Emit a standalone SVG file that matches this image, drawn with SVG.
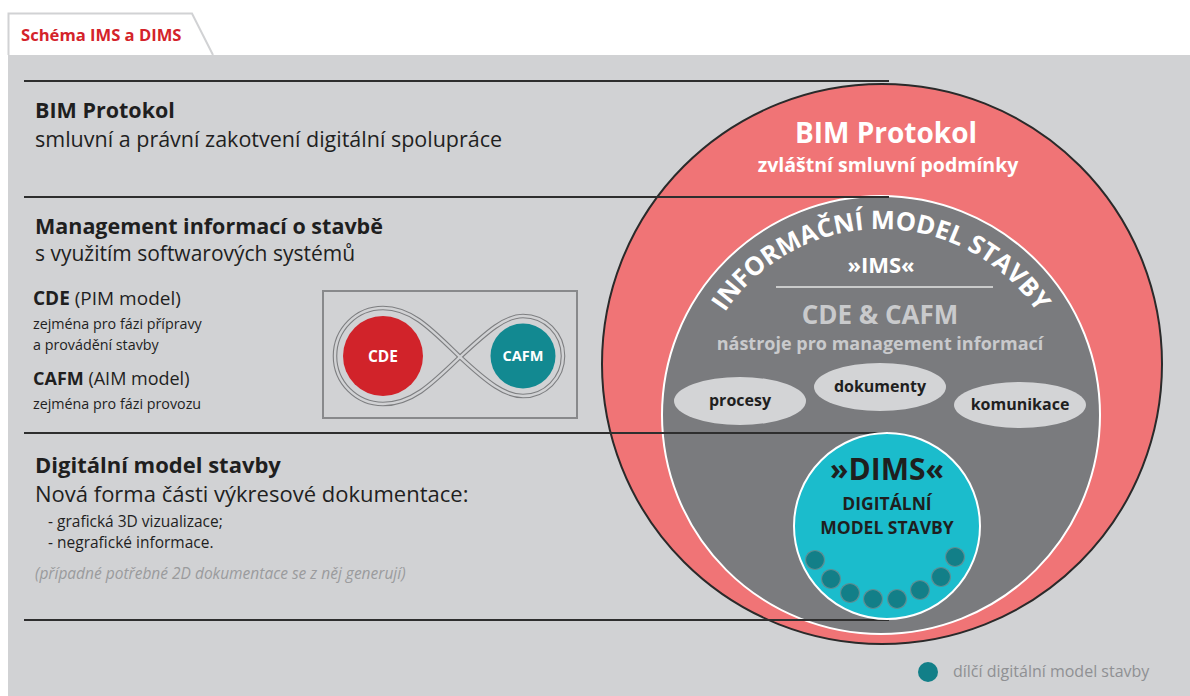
<svg xmlns="http://www.w3.org/2000/svg" width="1190" height="696" viewBox="0 0 1190 696">
<defs>
<style>
text{font-family:"Open Sans","Noto Sans","Liberation Sans",sans-serif}
.b{font-weight:700}
.dark{fill:#1f1f1f}
.rule{stroke:#2e2e2e;stroke-width:2}
.w{fill:#ffffff}
.lg{fill:#c9cacc}
.pill{fill:#d3d4d6}
.dot{fill:#127f88;stroke:#5f8e93;stroke-width:1.2}
</style>
<path id="arc" d="M 693,417 A 188,188 0 0 1 1069,417"/>
</defs>
<rect width="1190" height="696" fill="#ffffff"/>
<g id="background">
<rect x="8" y="55" width="1182" height="641" fill="#d1d2d4"/>
<path d="M8.5,55 L8.5,13.5 L192,13.5 L213,55" fill="#ffffff" stroke="#d1d2d4" stroke-width="2"/>
<text x="21" y="41" font-size="16.6" class="b" fill="#d4232a">Schéma IMS a DIMS</text>
</g>
<g id="rings">
<circle cx="882" cy="364" r="280" fill="#f07476" stroke="#2a2a2a" stroke-width="2"/>
<circle cx="881" cy="415" r="219" fill="#7a7b7e" stroke="#ffffff" stroke-width="2"/>
</g>
<g id="connectors">
<line class="rule" x1="24" y1="81" x2="889" y2="81"/>
<line class="rule" x1="24" y1="197" x2="889" y2="197"/>
<line class="rule" x1="24" y1="433" x2="889" y2="433"/>
<line class="rule" x1="24" y1="620" x2="889" y2="620"/>
</g>
<g id="bim-protokol-left">
<text x="35" y="118" font-size="21.5" class="b dark">BIM Protokol</text>
<text x="35" y="147" font-size="21.5" class="dark">smluvní a právní zakotvení digitální spolupráce</text>
</g>
<g id="management-left">
<text x="35" y="234" font-size="21.5" class="b dark">Management informací o stavbě</text>
<text x="35" y="261" font-size="21" class="dark">s využitím softwarových systémů</text>
<text x="33" y="305" font-size="19" class="dark"><tspan class="b">CDE</tspan> (PIM model)</text>
<text x="33" y="329" font-size="14.3" class="dark">zejména pro fázi přípravy</text>
<text x="33" y="350" font-size="14.3" class="dark">a provádění stavby</text>
<text x="33" y="385" font-size="18" class="dark"><tspan class="b">CAFM</tspan> (AIM model)</text>
<text x="33" y="409" font-size="14.3" class="dark">zejména pro fázi provozu</text>
</g>
<g id="cde-cafm-box">
<rect x="323" y="291" width="254" height="127" fill="none" stroke="#88898b" stroke-width="2"/>
<path d="M460,357 C432,330 412,308 383,308 A48,48 0 0 0 383,404 C412,404 432,384 460,357 C488,331 505,316 523,316 A40,40 0 0 1 523,396 C505,396 488,383 460,357 Z" fill="none" stroke="#7d7e80" stroke-width="4.6"/>
<path d="M460,357 C432,330 412,308 383,308 A48,48 0 0 0 383,404 C412,404 432,384 460,357 C488,331 505,316 523,316 A40,40 0 0 1 523,396 C505,396 488,383 460,357 Z" fill="none" stroke="#d1d2d4" stroke-width="2.4"/>
<circle cx="383" cy="356" r="40" fill="#d1232a"/>
<text x="383" y="362" font-size="15.5" class="b w" text-anchor="middle">CDE</text>
<circle cx="523" cy="356" r="32.5" fill="#128991"/>
<text x="523" y="361" font-size="14.5" class="b w" text-anchor="middle">CAFM</text>
</g>
<g id="dims-left">
<text x="35" y="473" font-size="22" class="b dark">Digitální model stavby</text>
<text x="35" y="502" font-size="22" class="dark">Nová forma části výkresové dokumentace:</text>
<text x="48" y="527" font-size="15.5" class="dark">- grafická 3D vizualizace;</text>
<text x="48" y="548" font-size="15.5" class="dark">- negrafické informace.</text>
<text x="35" y="579" font-size="15.5" font-style="italic" fill="#9a9b9d">(případné potřebné 2D dokumentace se z něj generují)</text>
</g>
<g id="bim-protokol-ring">
<text x="886" y="143" font-size="28" class="b w" text-anchor="middle">BIM Protokol</text>
<text x="888" y="172" font-size="19.5" class="b w" text-anchor="middle">zvláštní smluvní podmínky</text>
</g>
<g id="ims">
<text font-size="25.5" class="b w"><textPath href="#arc" startOffset="50%" text-anchor="middle">INFORMAČNÍ MODEL STAVBY</textPath></text>
<text x="881" y="273" font-size="22" class="b w" text-anchor="middle">»IMS«</text>
<line x1="776" y1="287" x2="993" y2="287" stroke="#e6e6e6" stroke-width="1.5"/>
<text x="880" y="324" font-size="26" class="b lg" text-anchor="middle">CDE &amp; CAFM</text>
<text x="880" y="350" font-size="18" class="b lg" text-anchor="middle">nástroje pro management informací</text>
</g>
<g id="procesy">
<ellipse cx="740" cy="401" rx="66" ry="24" class="pill"/>
<text x="740" y="406" font-size="16" class="b dark" text-anchor="middle">procesy</text>
</g>
<g id="dokumenty">
<ellipse cx="880" cy="387" rx="66" ry="24" class="pill"/>
<text x="880" y="392" font-size="16" class="b dark" text-anchor="middle">dokumenty</text>
</g>
<g id="komunikace">
<ellipse cx="1020" cy="405" rx="66" ry="23" class="pill"/>
<text x="1020" y="410" font-size="16" class="b dark" text-anchor="middle">komunikace</text>
</g>
<g id="dims">
<circle cx="887" cy="526" r="93" fill="#1bbccc" stroke="#ffffff" stroke-width="2"/>
<text x="887" y="480" font-size="30" class="b dark" text-anchor="middle">»DIMS«</text>
<text x="887" y="510" font-size="17.5" class="b dark" text-anchor="middle">DIGITÁLNÍ</text>
<text x="887" y="534" font-size="17.5" class="b dark" text-anchor="middle">MODEL STAVBY</text>
<circle class="dot" cx="815" cy="560" r="9.5"/>
<circle class="dot" cx="831" cy="579" r="9.5"/>
<circle class="dot" cx="850" cy="593" r="9.5"/>
<circle class="dot" cx="873" cy="599" r="9.5"/>
<circle class="dot" cx="897" cy="599" r="9.5"/>
<circle class="dot" cx="920" cy="590" r="9.5"/>
<circle class="dot" cx="941" cy="577" r="9.5"/>
<circle class="dot" cx="955" cy="557" r="9.5"/>
</g>
<g id="legend">
<circle cx="928" cy="672" r="10" fill="#127f88"/>
<text x="953" y="677" font-size="16" fill="#8f9093">dílčí digitální model stavby</text>
</g>
</svg>
